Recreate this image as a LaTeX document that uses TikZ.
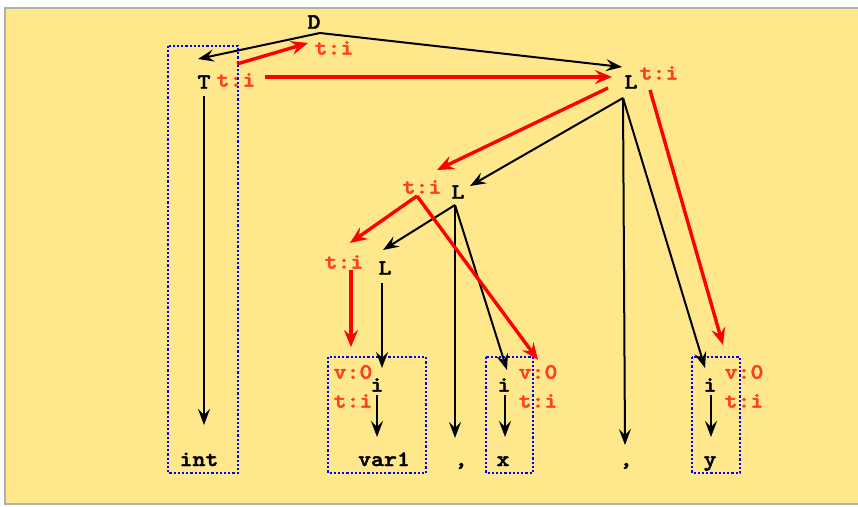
\documentclass[tikz,border=0pt]{standalone}
\usepackage{fontspec}
\newfontfamily\codefont{lmmonolt10-bold.otf}[FakeBold=2,FakeStretch=1.12]
\usetikzlibrary{arrows.meta,calc}
\definecolor{bgyellow}{RGB}{255,232,140}
\definecolor{attrred}{RGB}{255,64,32}
\definecolor{framegray}{RGB}{176,176,176}
\begin{document}
\begin{tikzpicture}[x=1pt, y=-1pt,
    sym/.style={font=\codefont\fontsize{22}{24}\selectfont, inner sep=0pt},
    attr/.style={sym, text=attrred},
    edge/.style={-{Stealth[length=16pt,width=12pt,inset=6pt]}, line width=2pt},
    pass/.style={-{Stealth[length=17pt,width=14pt,inset=6pt]}, red, line width=3.4pt},
    grp/.style={draw=blue, line width=2.4pt, dash pattern=on 2.2pt off 2pt}]
    \useasboundingbox (0,0) rectangle (858,506);
    \filldraw[fill=bgyellow, draw=framegray, line width=2pt] (5,8) rectangle (862,504);

    % tree nodes
    \node[sym] (D) at (314,22) {D};
    \node[sym] (T) at (204,82) {T};
    \node[sym] (L1) at (631,82) {L};
    \node[sym] (L2) at (458,192) {L};
    \node[sym] (L3) at (385,268) {L};
    \node[sym] (i1) at (377,385) {i};
    \node[sym] (i2) at (504,385) {i};
    \node[sym] (i3) at (710,385) {i};
    \node[sym, anchor=base] (int) at (199,466) {int};
    \node[sym, anchor=base] (var1) at (384,466) {var1};
    \node[sym, anchor=base] (c1) at (461,466) {,};
    \node[sym, anchor=base] (x) at (503,466) {x};
    \node[sym, anchor=base] (c2) at (626,466) {,};
    \node[sym, anchor=base] (y) at (710,466) {y};

    % attributes
    \node[attr] (tiD) at (334,48) {t:i};
    \node[attr] (tiT) at (236,80) {t:i};
    \node[attr] (tiL1) at (659,73) {t:i};
    \node[attr] (tiL2) at (422,187) {t:i};
    \node[attr] (tiL3) at (344,262) {t:i};
    \node[attr] (v1) at (353,372) {v:0};
    \node[attr] (t1) at (353,401) {t:i};
    \node[attr] (v2) at (538,372) {v:0};
    \node[attr] (t2) at (538,401) {t:i};
    \node[attr] (v3) at (744,372) {v:0};
    \node[attr] (t3) at (744,401) {t:i};

    % groups
    \draw[grp] (168,46) rectangle (238,473);
    \draw[grp] (328,357) rectangle (426,473);
    \draw[grp] (486,357) rectangle (533,473);
    \draw[grp] (692,357) rectangle (740,473);

    % parse tree
    \draw[edge] ($(D)+(6,11)$) -- ($(T)+(-6,-23)$);
    \draw[edge] ($(D)+(6,11)$) -- ($(L1)+(-9,-15)$);
    \draw[edge] ($(T)+(0,14)$) -- ($(int.base)+(5,-41)$);
    \draw[edge] ($(L1)+(-8,16)$) -- ($(L2)+(12,-6)$);
    \draw[edge] ($(L1)+(-8,16)$) -- ($(c2.base)+(-1,-21)$);
    \draw[edge] ($(L1)+(-8,16)$) -- ($(i3)+(-5,-17)$);
    \draw[edge] ($(L2)+(-3,13)$) -- ($(L3)+(-2,-18)$);
    \draw[edge] ($(L2)+(-3,13)$) -- ($(c1.base)+(-6,-28)$);
    \draw[edge] ($(L2)+(-3,13)$) -- ($(i2)+(3,-15)$);
    \draw[edge] ($(L3)+(-3,15)$) -- ($(i1)+(5,-17)$);
    \draw[edge] ($(i1)+(0,10)$) -- ($(var1.base)+(-7,-29)$);
    \draw[edge] ($(i2)+(1,10)$) -- ($(x.base)+(2,-29)$);
    \draw[edge] ($(i3)+(1,10)$) -- ($(y.base)+(1,-29)$);

    % attribute flow
    \draw[pass] ($(tiT)+(1,-16)$) -- ($(tiD)+(-26,-5)$);
    \draw[pass] ($(tiT)+(29,-3)$) -- ($(L1)+(-19,-5)$);
    \draw[pass] ($(L1)+(-23,6)$) -- ($(tiL2)+(15,-17)$);
    \draw[pass] ($(tiL1)+(-9,17)$) -- ($(v3)+(-21,-27)$);
    \draw[pass] ($(tiL2)+(-5,9)$) -- ($(tiL3)+(6,-19)$);
    \draw[pass] ($(tiL2)+(-5,9)$) -- ($(v2)+(0,-12)$);
    \draw[pass] ($(tiL3)+(7,8)$) -- ($(v1)+(-2,-25)$);
\end{tikzpicture}
\end{document}
